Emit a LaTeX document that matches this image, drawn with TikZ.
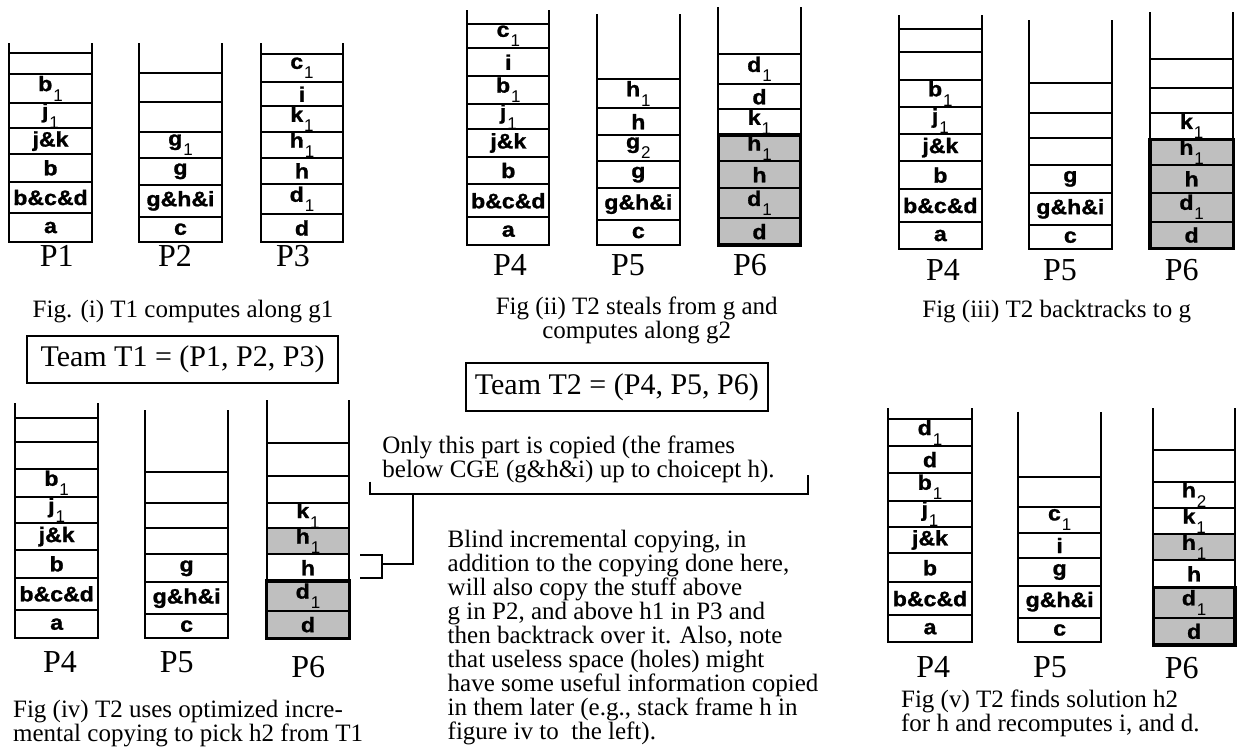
\documentclass[tikz,border=0pt]{standalone}
\usepackage{fontspec}
\setmainfont{Liberation Serif}
\newfontfamily\cellfont{Liberation Sans Bold}[FakeStretch=1.1, FakeBold=1.2]
\newfontfamily\idxfont{Liberation Sans}
\usetikzlibrary{positioning}

\definecolor{copiedgray}{gray}{0.75}

% label with a lowered index, e.g. \ix{b}{1}
\newcommand{\ix}[2]{#1\kern0.5pt\raisebox{-5pt}{\idxfont\fontsize{8.5}{8.5}\selectfont #2}}

% one stack: name, left, right, wall top, bottom, cells (top/bottom/label/fill)
\newcommand{\frames}[6]{%
  \foreach \ya/\yb/\txt/\fc [count=\i] in {#6} {
    \draw[frame, fill=\fc] (#2,\ya) rectangle (#3,\yb);
    \node[cell] (#1-\i) at ({(#2+#3)/2},{(\ya+\yb)/2}) {\txt};
  }
  \draw[frame] (#2,#4) |- (#3,#5) -- (#3,#4);
}

\begin{document}
\begin{tikzpicture}[x={(0.5pt,0)}, y={(0,-0.5pt)},
    frame/.style={line width=0.9pt},
    copied/.style={line width=1.6pt},
    cell/.style={inner sep=0pt, font=\cellfont\fontsize{10.5}{10.5}\selectfont},
    plabel/.style={inner sep=0pt, font=\fontsize{16}{16}\selectfont},
    caption/.style={inner sep=0pt, font=\fontsize{12.5}{12}\selectfont},
    teambox/.style={draw, line width=0.9pt, inner sep=0pt, font=\fontsize{15}{15}\selectfont}]
\useasboundingbox (0,0) rectangle (1243,750);

% Fig (i)
\frames{f1p1}{9}{92}{43}{241.7}{52.7/74.3/{}/white, 74.3/102.7/\ix{b}{1}/white,
  102.7/128.3/\ix{j}{1}/white, 128.3/154/j\&k/white, 154/181.7/b/white,
  181.7/213.3/b\&c\&d/white, 213.3/241.7/a/white}
\frames{f1p2}{139}{222}{43}{241.7}{73.3/101.7/{}/white, 101.7/132.3/{}/white,
  132.3/157.7/\ix{g}{1}/white, 157.7/185/g/white, 185/216.7/g\&h\&i/white,
  216.7/241.7/c/white}
\frames{f1p3}{261}{343}{43}{241.7}{54/82.3/\ix{c}{1}/white, 82.3/106/i/white,
  106/132.3/\ix{k}{1}/white, 132.3/157.7/\ix{h}{1}/white, 157.7/184/h/white,
  184/214.3/\ix{d}{1}/white, 214.3/241.7/d/white}
\node[plabel] (f1l1) at (56.7,256) {P1};
\node[plabel] (f1l2) at (175,256) {P2};
\node[plabel] (f1l3) at (293,256) {P3};
\node[caption] (cap1) at (183,311.7) {Fig. (i) T1 computes along g1};
\node[teambox, minimum width=155.8pt, minimum height=23.8pt] (team1) at (182.5,359.5) {Team T1 = (P1, P2, P3)};

% Fig (ii)
\frames{f2p4}{467.3}{549.3}{10}{245}{24/48.3/\ix{c}{1}/white, 48.3/76/i/white,
  76/104/\ix{b}{1}/white, 104/129.3/\ix{j}{1}/white, 129.3/156.7/j\&k/white,
  156.7/184.3/b/white, 184.3/217.3/b\&c\&d/white, 217.3/245/a/white}
\frames{f2p5}{596.7}{680}{14}{245}{79/108.3/\ix{h}{1}/white, 108.3/135/h/white,
  135/161/\ix{g}{2}/white, 161/188.3/g/white, 188.3/220/g\&h\&i/white,
  220/245/c/white}
\frames{f2p6}{718.3}{800.7}{7}{245}{54.3/84.3/\ix{d}{1}/white, 84.3/109.3/d/white,
  109.3/135/\ix{k}{1}/white, 135/161/\ix{h}{1}/copiedgray, 161/188.3/h/copiedgray,
  188.3/218.3/\ix{d}{1}/copiedgray, 218.3/245/d/copiedgray}
\draw[copied] (718.3,135) rectangle (800.7,245);
\node[plabel] (f2l4) at (510,265) {P4};
\node[plabel] (f2l5) at (628,265) {P5};
\node[plabel] (f2l6) at (750,265) {P6};
\node[caption, align=center] (cap2) at (636.7,320) {Fig (ii) T2 steals from g and\\computes along g2};
\node[teambox, minimum width=150.9pt, minimum height=23.9pt] (team2) at (616.9,387.2) {Team T2 = (P4, P5, P6)};

% Fig (iii)
\frames{f3p4}{899}{981.7}{15}{249.3}{29/52.3/{}/white, 52.3/80/{}/white,
  80/107.3/\ix{b}{1}/white, 107.3/134.3/\ix{j}{1}/white, 134.3/161/j\&k/white,
  161/189.3/b/white, 189.3/221.7/b\&c\&d/white, 221.7/249.3/a/white}
\frames{f3p5}{1029}{1111.7}{20}{249.3}{83.3/113.3/{}/white, 113.3/138.3/{}/white,
  138.3/165/{}/white, 165/192.7/g/white, 192.7/225/g\&h\&i/white, 225/249.3/c/white}
\frames{f3p6}{1150}{1233.3}{12}{248.3}{59/88.3/{}/white, 88.3/113.3/{}/white,
  113.3/139.3/\ix{k}{1}/white, 139.3/165/\ix{h}{1}/copiedgray, 165/192.7/h/copiedgray,
  192.7/221.7/\ix{d}{1}/copiedgray, 221.7/248.3/d/copiedgray}
\draw[copied] (1150,139.3) rectangle (1233.3,248.3);
\node[plabel] (f3l4) at (943,270) {P4};
\node[plabel] (f3l5) at (1060,270) {P5};
\node[plabel] (f3l6) at (1181.7,270) {P6};
\node[caption] (cap3) at (1056.7,311.7) {Fig (iii) T2 backtracks to g};

% Fig (iv)
\frames{f4p4}{15}{98.3}{403}{638.3}{418.3/441.7/{}/white, 441.7/469/{}/white,
  469/497.3/\ix{b}{1}/white, 497.3/523.3/\ix{j}{1}/white, 523.3/550/j\&k/white,
  550/577.7/b/white, 577.7/610/b\&c\&d/white, 610/638.3/a/white}
\frames{f4p5}{145}{228.3}{410}{638.3}{471.7/502.7/{}/white, 502.7/527.7/{}/white,
  527.7/554.3/{}/white, 554.3/582.3/g/white, 582.3/614/g\&h\&i/white, 614/638.3/c/white}
\frames{f4p6}{266.7}{349.3}{400}{638.3}{442.7/475.7/{}/white, 475.7/503.3/{}/white,
  503.3/527.7/\ix{k}{1}/white, 527.7/554.3/\ix{h}{1}/copiedgray, 554.3/581/h/white,
  581/611/\ix{d}{1}/copiedgray, 611/638.3/d/copiedgray}
\draw[copied] (266.7,581) rectangle (349.3,638.3);
\node[plabel] (f4l4) at (60,661.7) {P4};
\node[plabel] (f4l5) at (176.7,661.7) {P5};
\node[plabel] (f4l6) at (308.3,666.7) {P6};
\node[caption, align=left, anchor=west] (cap4) at (12.7,723.5) {Fig (iv) T2 uses optimized incre-\\mental copying to pick h2 from T1};

% notes on the copied part
\node[caption, align=left, anchor=north west] (onlynote) at (382,435) {Only this part is copied (the frames\\below CGE (g\&h\&i) up to choicept h).};
\node[caption, align=left, anchor=north west] (blindnote) at (447.3,530) {Blind incremental copying, in\\addition to the copying done here,\\will also copy the stuff above\\g in P2, and above h1 in P3 and\\then backtrack over it. Also, note\\that useless space (holes) might\\have some useful information copied\\in them later (e.g., stack frame h in\\figure iv to\ \ the left).};
\draw[frame] (370,481.7) |- (808.3,494.3) -- (808.3,475);
\coordinate (brk) at (412.7,494.3);
\coordinate (hmark) at (381.7,564.3);
\draw[frame] (brk) |- (hmark);
\draw[frame] (360,555) -| (381.7,578.3) -- (360,578.3);

% Fig (v)
\frames{f5p4}{888.3}{971.7}{408}{642.3}{419/446/\ix{d}{1}/white, 446/473.3/d/white,
  473.3/501/\ix{b}{1}/white, 501/526.7/\ix{j}{1}/white, 526.7/553.3/j\&k/white,
  553.3/582.3/b/white, 582.3/615/b\&c\&d/white, 615/642.3/a/white}
\frames{f5p5}{1018.3}{1101}{411.7}{642.3}{476.7/506.7/{}/white, 506.7/532.7/\ix{c}{1}/white,
  532.7/558.3/i/white, 558.3/585.7/g/white, 585.7/617.7/g\&h\&i/white, 617.7/642.3/c/white}
\frames{f5p6}{1153.3}{1235}{408}{645}{450/481.7/{}/white, 481.7/507.7/\ix{h}{2}/white,
  507.7/534.3/\ix{k}{1}/white, 534.3/560/\ix{h}{1}/copiedgray, 560/587.7/h/white,
  587.7/617.7/\ix{d}{1}/copiedgray, 617.7/645/d/copiedgray}
\draw[copied] (1153.3,587.7) rectangle (1235,645);
\node[plabel] (f5l4) at (933.3,666.7) {P4};
\node[plabel] (f5l5) at (1050,666.7) {P5};
\node[plabel] (f5l6) at (1181.7,668) {P6};
\node[caption, align=left, anchor=west] (cap5) at (900.7,713.5) {Fig (v) T2 finds solution h2\\for h and recomputes i, and d.};
\end{tikzpicture}
\end{document}
